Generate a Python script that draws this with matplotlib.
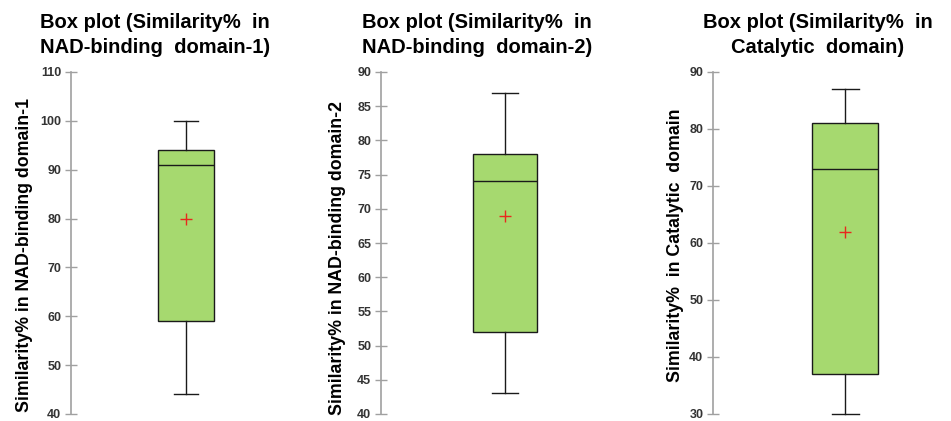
import numpy as np
import matplotlib
matplotlib.use("Agg")
import matplotlib.pyplot as plt

plt.rcParams['font.family'] = ['Liberation Sans', 'DejaVu Sans']

# Panel data
titles = ["Box plot (Similarity%  in\nNAD-binding  domain-1)",
          "Box plot (Similarity%  in\nNAD-binding  domain-2)",
          "Box plot (Similarity%  in\nCatalytic  domain)"]
ylabels = ["Similarity% in NAD-binding domain-1",
           "Similarity% in NAD-binding domain-2",
           "Similarity%  in Catalytic  domain"]
whislo = [44, 43, 30]
q1 = [59, 52, 37]
med = [91, 74, 73]
q3 = [94, 78, 81]
whishi = [100, 87, 87]
means = [80, 69, 62]
ymins = [40, 40, 30]
ymaxs = [110, 90, 90]
ysteps = [10, 5, 10]

W, H = 951, 421
fig = plt.figure(figsize=(W / 100, H / 100), dpi=100)

# axes geometry in pixels: (spine x, box centre x, box width px, cap width px)
geom = [(71, 186, 56, 24), (381, 505, 64, 26), (713, 845, 66, 27)]
title_x = [155, 477, 818]
ylabel_x = [25, 338, 676]
ylabel_y = [255, 258, 245]
top_px, bot_px = 72, 414

for i in range(3):
    sx, cx, bw, cw = geom[i]
    half = cx - sx
    ax = fig.add_axes([sx / W, 1 - bot_px / H, 2 * half / W, (bot_px - top_px) / H])
    stats = [{
        'whislo': whislo[i], 'q1': q1[i], 'med': med[i],
        'q3': q3[i], 'whishi': whishi[i], 'mean': means[i], 'fliers': []
    }]
    art = ax.bxp(stats, positions=[0], widths=[bw / (2 * half)],
                 capwidths=[cw / (2 * half)], patch_artist=True,
                 showmeans=True, showfliers=False,
                 boxprops=dict(facecolor='#a6d96f', edgecolor='#1a1a1a', linewidth=1.0),
                 medianprops=dict(color='#1a1a1a', linewidth=1.0),
                 whiskerprops=dict(color='#1a1a1a', linewidth=1.0),
                 capprops=dict(color='#1a1a1a', linewidth=1.0),
                 meanprops=dict(marker='+', markeredgecolor='#e8281e', markersize=9,
                                markeredgewidth=1.0))
    for key in ('caps', 'whiskers'):
        for ln in art[key]:
            ln.set_clip_on(False)
    ax.set_xlim(-0.5, 0.5)
    ax.set_ylim(ymins[i], ymaxs[i])
    ax.set_yticks(np.arange(ymins[i], ymaxs[i] + 0.1, ysteps[i]))
    ax.set_xticks([])
    for s in ['top', 'right', 'bottom']:
        ax.spines[s].set_visible(False)
    ax.spines['left'].set_color('#a0a0a0')
    ax.spines['left'].set_linewidth(1.2)
    ax.tick_params(axis='y', direction='inout', length=8, width=1.0,
                   color='#a0a0a0', labelsize=9, labelcolor='#333333', pad=3)
    for lab in ax.get_yticklabels():
        lab.set_fontweight('bold')
    ax.patch.set_alpha(0)

    fig.text(title_x[i] / W, 1 - 35 / H, titles[i], ha='center', va='center',
             fontsize=14.5, fontweight='bold', linespacing=1.4)
    fig.text(ylabel_x[i] / W, 1 - ylabel_y[i] / H, ylabels[i], rotation=90,
             ha='center', va='center', fontsize=12.8, fontweight='bold')

fig.savefig("out.png", dpi=100)
